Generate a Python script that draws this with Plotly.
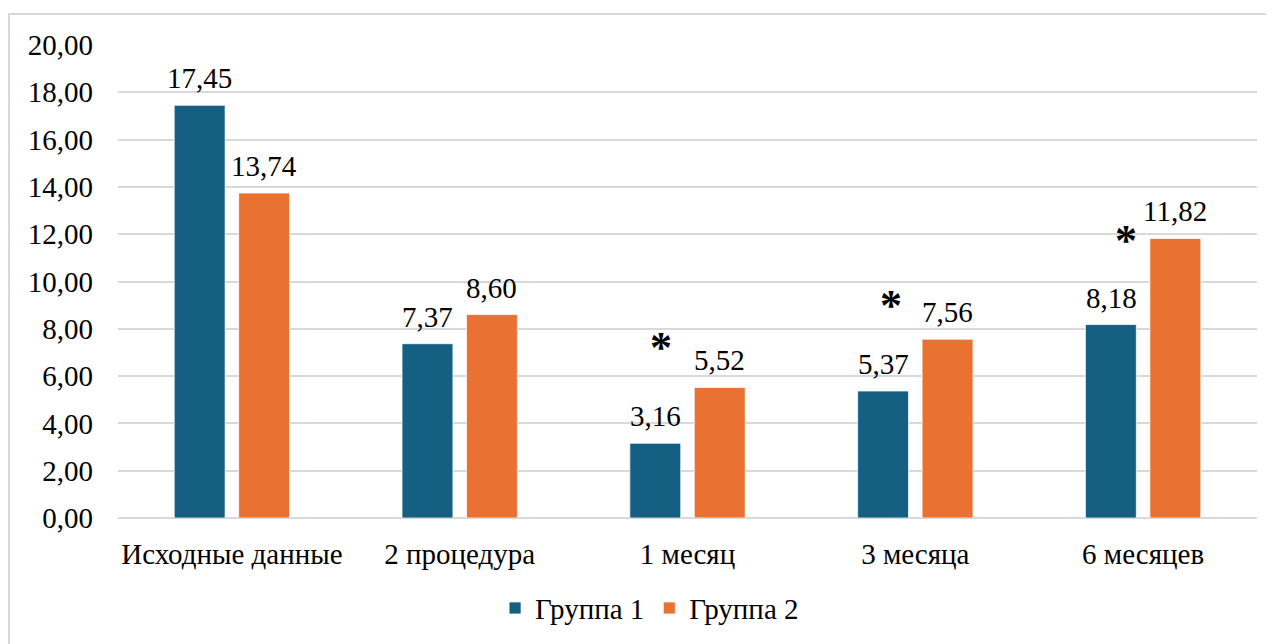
import plotly.graph_objects as go

categories = ["Исходные данные", "2 процедура", "1 месяц", "3 месяца", "6 месяцев"]
group1 = [17.45, 7.37, 3.16, 5.37, 8.18]
group2 = [13.74, 8.60, 5.52, 7.56, 11.82]
series_names = ["Группа 1", "Группа 2"]
significant = ["1 месяц", "3 месяца", "6 месяцев"]
y_ticks = [0, 2, 4, 6, 8, 10, 12, 14, 16, 18, 20]

BLUE = "#156082"
ORANGE = "#E97132"
FONT = "Liberation Serif"
FS = 29

fig = go.Figure()
for name, vals, col in [(series_names[0], group1, BLUE), (series_names[1], group2, ORANGE)]:
    fig.add_trace(go.Bar(
        x=categories, y=vals, name=name,
        marker=dict(color=col, line=dict(color="white", width=0.75)),
    ))

# value labels above bars
for vals, dx in [(group1, -32), (group2, 32)]:
    for c, v in zip(categories, vals):
        fig.add_annotation(x=c, y=v, xref="x", yref="y", text=f"{v:.2f}".replace(".", ","),
                           showarrow=False, xshift=dx, yanchor="bottom", yshift=9,
                           font=dict(family=FONT, size=FS, color="black"))

# significance asterisks (pixel offsets relative to the Группа 2 bar top)
star_offsets = {"1 месяц": (-27, 40), "3 месяца": (-24, 34), "6 месяцев": (-17, -2)}
g2 = dict(zip(categories, group2))
for c in significant:
    dx, dy = star_offsets[c]
    fig.add_annotation(x=c, y=g2[c], xref="x", yref="y", text="<b>*</b>", showarrow=False,
                       xshift=dx, yshift=dy,
                       font=dict(family=FONT, size=44, color="black"))

# outer frame (partially visible)
fig.add_shape(type="rect", xref="paper", yref="paper",
              x0=-0.0957, x1=1.2, y0=-0.5, y1=1.0654,
              line=dict(color="#D9D9D9", width=2), layer="below")

fig.update_layout(
    width=1266, height=636,
    margin=dict(l=110, r=17, t=37, b=125),
    paper_bgcolor="white", plot_bgcolor="white",
    separators=", ",
    barmode="group", bargap=0.434, bargroupgap=0.21,
    font=dict(family=FONT, size=FS, color="black"),
    showlegend=True,
    legend=dict(orientation="h", x=0.4667, xanchor="center", y=-0.188, yanchor="middle",
                font=dict(family=FONT, size=FS), itemwidth=30, tracegroupgap=0),
    xaxis=dict(showgrid=False, showline=False, ticks="", ticklabelstandoff=16,
               tickfont=dict(family=FONT, size=FS)),
    yaxis=dict(range=[0, 20], tickvals=y_ticks, tickformat=".2f",
               showgrid=True, gridcolor="#D9D9D9", gridwidth=1.5,
               zeroline=True, zerolinecolor="#D9D9D9", zerolinewidth=1.5,
               showline=False, ticks="", ticklabelstandoff=24,
               tickfont=dict(family=FONT, size=FS)),
)

fig.write_html("out.html")
